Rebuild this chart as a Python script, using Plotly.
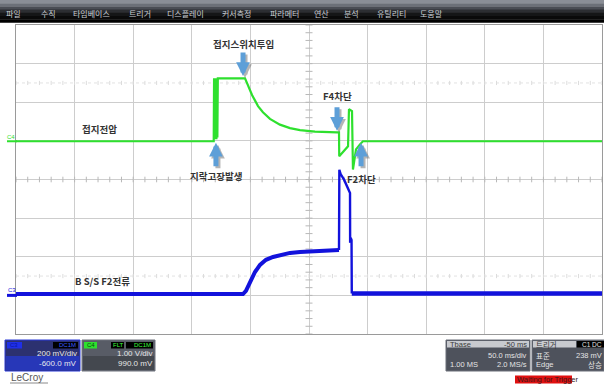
import plotly.graph_objects as go

W, H = 604, 387

# ---------------- data ----------------
# time in ms relative to trigger (50 ms/div, 10 div)
time_range = [-200, 300]
ms_per_div = 50

# C4 : ground voltage (V), 1.00 V/div, offset 990 mV
c4_vdiv = 1.0
c4_offset_mv = 990.0
c4_t = [-200, -31.3, -31.0, -30.6, -30.2, -29.8, -29.4, -29.0, -28.6, -28.2, -27.8,
        -4.6, 1.4, 6.5, 10.7, 16.7, 25.2, 33.8, 42.3, 55.1, 73.9,
        75.6, 75.8, 83.3, 84.1, 86.7, 87.5, 90.1, 93.5, 96.0, 300]
c4_v = [0.0, 0.0, 1.63, 0.05, 1.63, 0.05, 1.63, 0.05, 1.63, 0.10, 1.63,
        1.63, 1.20, 0.91, 0.75, 0.58, 0.43, 0.34, 0.29, 0.25, 0.23,
        0.23, -0.39, -0.13, 0.83, 0.78, -0.73, -0.21, -0.08, 0.0, 0.0]

# C3 : B S/S F2 current (mV), 200 mV/div, offset -600 mV
c3_t = [-200, -6.3, -3.8, -0.4, 3.9, 8.2, 13.3, 19.3, 26.1, 33.8, 42.3, 59.4, 75.6,
        75.9, 77.0, 80.0, 85.0, 85.1, 85.6, 86.3, 86.5, 300]
c3_mv = [7, 7, 23, 69, 121, 158, 184, 199, 210, 220, 225, 230, 235,
         650, 628, 598, 530, 272, 298, 287, 10, 10]
c3_vdiv_mv = 200.0
c3_offset_mv = -600.0
c3_spike_start = 12   # index where the trip transient begins
c3_spike_end = 20     # index where the trace is back at baseline

menu_items = ["파일", "수직", "타임베이스", "트리거", "디스플레이", "커서측정",
              "파라메터", "연산", "분석", "유틸리티", "도움말"]
menu_x = [13.5, 48, 91, 139.5, 185.5, 236.5, 284.5, 322, 351, 391.5, 431.5]

events = [  # (label, time ms, level div, text offset px, arrow direction)
    ("접지스위치투입", -6.3, 6.68, -32, "down"),
    ("지락고장발생", -29.4, 4.95, 33, "up"),
    ("F4차단", 73.9, 5.26, -35, "down"),
    ("F2차단", 94.4, 4.95, 36, "up"),
]

# ---------------- conversions ----------------
c4_y = [4 + (v * 1000 + c4_offset_mv) / (c4_vdiv * 1000) for v in c4_v]
c3_y = [4 + (m + c3_offset_mv) / c3_vdiv_mv for m in c3_mv]

GREEN = "#2ee02e"
BLUE = "#1212dc"
ARROW = "#5d9fd8"
KR = "Noto Sans CJK KR"
SANS = "Liberation Sans"

fig = go.Figure()

# center-cross tick marks
fig.add_trace(go.Scatter(x=[50] * 41, y=[i * 0.2 for i in range(41)], mode="markers",
                         marker=dict(symbol="line-ew", size=5, line=dict(width=1, color="#b8b8b8")),
                         hoverinfo="skip", showlegend=False))
for yy in (4, 6.5, 1.5):
    fig.add_trace(go.Scatter(x=[-200 + i * 10 for i in range(51)], y=[yy] * 51, mode="markers",
                             marker=dict(symbol="line-ns", size=4 if yy == 4 else 3,
                                         line=dict(width=1, color="#b8b8b8" if yy == 4 else "#dcdcdc")),
                             hoverinfo="skip", showlegend=False))

fig.add_trace(go.Scatter(x=c4_t, y=c4_y, mode="lines", line=dict(color=GREEN, width=2.2),
                         hoverinfo="skip", showlegend=False))
# C3: thick noisy band for baseline/rise, thinner for the trip transient
fig.add_trace(go.Scatter(x=c3_t[:c3_spike_start + 1], y=c3_y[:c3_spike_start + 1], mode="lines",
                         line=dict(color=BLUE, width=4), hoverinfo="skip", showlegend=False))
fig.add_trace(go.Scatter(x=c3_t[c3_spike_start:c3_spike_end + 1], y=c3_y[c3_spike_start:c3_spike_end + 1],
                         mode="lines", line=dict(color=BLUE, width=2.4), hoverinfo="skip", showlegend=False))
fig.add_trace(go.Scatter(x=c3_t[c3_spike_end:], y=c3_y[c3_spike_end:], mode="lines",
                         line=dict(color=BLUE, width=4.5), hoverinfo="skip", showlegend=False))
# trigger position marker
fig.add_trace(go.Scatter(x=[0], y=[-0.1], mode="markers", cliponaxis=False,
                         marker=dict(symbol="triangle-up", size=7, color="#22cc44"),
                         hoverinfo="skip", showlegend=False))

shapes = []
ann = []

def rect(x0, y0, x1, y1, fill, line=None, lw=0):
    shapes.append(dict(type="rect", xref="paper", yref="paper", x0=x0 / W, x1=x1 / W,
                       y0=1 - y1 / H, y1=1 - y0 / H, fillcolor=fill, layer="above",
                       line=dict(width=lw, color=line or fill)))

def text(x, y, s, size, color, anchor="left", family=SANS):
    ann.append(dict(xref="paper", yref="paper", x=x / W, y=1 - y / H, text=s, showarrow=False,
                    xanchor=anchor, yanchor="middle", borderpad=0,
                    font=dict(size=size, color=color, family=family)))

# faint dotted level rows
for yy in (6.5, 1.5):
    shapes.append(dict(type="line", xref="x", yref="y", x0=-200, x1=300, y0=yy, y1=yy,
                       line=dict(color="#e2e2e2", width=1, dash="dot"), layer="below"))

# menu bar
grad = ["#8a8e96", "#6c7078", "#4a4d54", "#2c2e32", "#151617", "#0a0a0a", "#000000"]
for i, c in enumerate(grad):
    rect(0, i * 3.2, W, (i + 1) * 3.2 + 0.3, c)
for s, x in zip(menu_items, menu_x):
    text(x, 13, s, 8, "#c9cdd2", "center", KR)

# channel reference markers
shapes.append(dict(type="line", xref="paper", yref="y", x0=7 / W, x1=17 / W, y0=c4_y[0], y1=c4_y[0],
                   line=dict(color=GREEN, width=2)))
shapes.append(dict(type="line", xref="paper", yref="y", x0=7 / W, x1=17 / W, y0=1.0, y1=1.0,
                   line=dict(color=BLUE, width=3)))
text(6, 137, "C4", 6, GREEN)
text(7, 290, "C3", 6, BLUE)

# trace labels
ann.append(dict(x=-129, y=5.31, xref="x", yref="y", text="<b>접지전압</b>", showarrow=False,
                font=dict(size=9.5, color="#333333", family=KR)))
ann.append(dict(x=-126.6, y=1.37, xref="x", yref="y", text="<b>B S/S F2전류</b>", showarrow=False,
                font=dict(size=9.5, color="#333333", family=KR)))

# event arrows + labels
for label, t, lv, dy, d in events:
    ay = -25 if d == "down" else 25
    for sh, col in ((2, "rgba(110,110,110,0.5)"), (0, ARROW)):
        ann.append(dict(x=t, y=lv, xref="x", yref="y", ax=0, ay=ay, text="", showarrow=True,
                        arrowhead=2, arrowsize=0.55, arrowwidth=5, arrowcolor=col,
                        xshift=sh, yshift=-sh, standoff=0))
    ann.append(dict(x=t, y=lv, xref="x", yref="y", yshift=-dy, text="<b>%s</b>" % label,
                    showarrow=False, font=dict(size=9.5, color="#333333", family=KR)))

# ---- bottom-left channel panels ----
rect(5, 340, 80, 371, "#2c3170", "#2a3ad8", 1)
rect(6, 356, 79, 370, "#2737b8")
rect(7, 342, 22, 348.5, "#1f2fe8")
text(9, 345.3, "C3", 6, "#0a18a0")
rect(53, 342, 78, 348.5, "#000000")
text(76.5, 345.3, "DC1M", 6, "#3a5cff", "right")
text(78, 353, "200 mV/div", 8, "#e6e6ee", "right")
text(78, 363.5, "-600.0 mV", 8, "#e6e6ee", "right")

rect(82, 340, 155, 371, "#585c66", "#6e727c", 1)
rect(83, 356, 154, 370, "#44484f")
rect(84, 342, 97, 348.5, "#2ee02e")
text(86, 345.3, "C4", 6, "#0a4a0a")
rect(111, 342, 124, 348.5, "#000000")
text(112, 345.3, "FLT", 6, "#3cff3c")
rect(126, 342, 153, 348.5, "#000000")
text(151.5, 345.3, "DC1M", 6, "#3cff3c", "right")
text(154, 353, "1.00 V/div", 8, "#e6e6e6", "right")
text(154, 363.5, "990.0 mV", 8, "#e6e6e6", "right")

text(10, 377, "LeCroy", 10, "#5a5a5a")
shapes.append(dict(type="line", xref="paper", yref="paper", x0=10 / W, x1=48 / W,
                   y0=1 - 383 / H, y1=1 - 383 / H, line=dict(color="#8a8a8a", width=1)))

# ---- bottom-right timebase / trigger panels ----
rect(446, 340, 530, 371, "#4e525c", "#6a6e78", 1)
rect(447, 341, 529, 347.5, "#c8cacf")
text(449, 344.5, "Tbase", 7.5, "#3a3a3a")
text(528, 344.5, "-50 ms", 7.5, "#3a3a3a", "right")
text(528, 355, "50.0 ms/div", 7.5, "#e4e4e4", "right")
text(449, 364.5, "1.00 MS", 7.5, "#e4e4e4")
text(528, 364.5, "2.0 MS/s", 7.5, "#e4e4e4", "right")

rect(532, 340, 604, 371, "#4e525c", "#6a6e78", 1)
rect(533, 341, 576, 347.5, "#c8cacf")
text(535, 344.5, "트리거", 7.5, "#3a3a3a", family=KR)
rect(577, 341, 604, 347.5, "#000000")
text(603, 344.5, "C1 DC", 6.5, "#e0e0e0", "right")
text(535, 355, "표준", 7.5, "#e4e4e4", family=KR)
text(603, 355, "238 mV", 7.5, "#e4e4e4", "right")
text(535, 364.5, "Edge", 7.5, "#e4e4e4")
text(603, 364.5, "상승", 7.5, "#e4e4e4", "right", KR)

rect(515, 375.5, 572, 383.5, "#e01010")
text(516, 379.5, "Waiting for Trigger", 7.5, "#3a1a1a")

fig.update_layout(
    width=W, height=H, margin=dict(l=0, r=0, t=0, b=0),
    paper_bgcolor="white", plot_bgcolor="white",
    shapes=shapes, annotations=ann, showlegend=False,
    xaxis=dict(domain=[16 / W, 602 / W], range=time_range, dtick=ms_per_div, tick0=-200,
               showgrid=True, gridcolor="#cdcdcd", gridwidth=1, zeroline=False,
               showticklabels=False, ticks="", showline=True, linecolor="#9a9a9a", mirror=True,
               fixedrange=True),
    yaxis=dict(domain=[1 - 334 / H, 1 - 25 / H], range=[0, 8], dtick=1, tick0=0,
               showgrid=True, gridcolor="#cdcdcd", gridwidth=1, zeroline=False,
               showticklabels=False, ticks="", showline=True, linecolor="#9a9a9a", mirror=True,
               fixedrange=True),
)

fig.write_html("out.html", config={"displayModeBar": False})
